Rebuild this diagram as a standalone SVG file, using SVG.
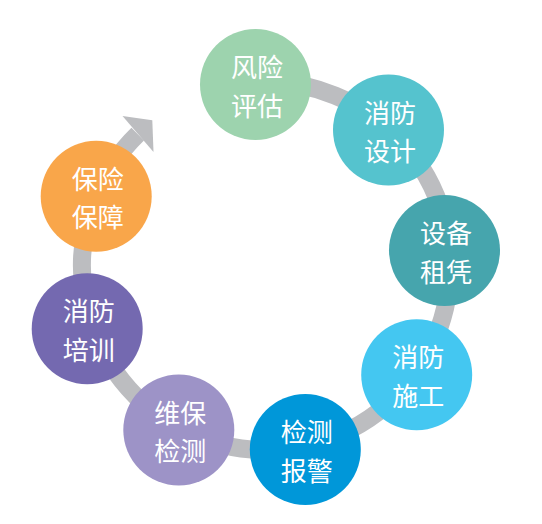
<svg xmlns="http://www.w3.org/2000/svg" width="542" height="524" viewBox="0 0 542 524">
<style>
.ring{fill:none;stroke:#bcbdc0;stroke-width:18}
.head{fill:#bcbdc0}
.lbl{font-family:"Noto Sans CJK SC","Noto Sans",sans-serif;font-size:26px;fill:#ffffff;text-anchor:middle}
</style>
<rect width="542" height="524" fill="#ffffff"/>
<g id="connectors">
<path class="ring" d="M256.4,82.3 A184,184 0 1 1 137.7,134.1"/>
<polygon class="head" points="152.3,120.3 122.5,116 153.5,152"/>
</g>
<g id="n1"><circle cx="255.5" cy="84.5" r="55.5" fill="#9dd3ae"/><text class="lbl" x="257" y="77">风险</text><text class="lbl" x="257" y="115.5">评估</text></g>
<g id="n2"><circle cx="388.5" cy="130" r="55.5" fill="#55c3ce"/><text class="lbl" x="390" y="122.5">消防</text><text class="lbl" x="390" y="161">设计</text></g>
<g id="n3"><circle cx="444.5" cy="250.5" r="55.5" fill="#46a5ad"/><text class="lbl" x="446" y="243">设备</text><text class="lbl" x="446" y="281.5">租凭</text></g>
<g id="n4"><circle cx="416.7" cy="374.7" r="55.5" fill="#44c7f1"/><text class="lbl" x="418.2" y="367.2">消防</text><text class="lbl" x="418.2" y="405.7">施工</text></g>
<g id="n5"><circle cx="305.3" cy="449.5" r="55.5" fill="#0097d9"/><text class="lbl" x="306.8" y="442">检测</text><text class="lbl" x="306.8" y="480.5">报警</text></g>
<g id="n6"><circle cx="178.8" cy="430" r="55.5" fill="#9d93c7"/><text class="lbl" x="180.3" y="422.5">维保</text><text class="lbl" x="180.3" y="461">检测</text></g>
<g id="n7"><circle cx="87.2" cy="328.8" r="55.5" fill="#7469b0"/><text class="lbl" x="88.7" y="321.3">消防</text><text class="lbl" x="88.7" y="359.8">培训</text></g>
<g id="n8"><circle cx="96.2" cy="196.3" r="55.5" fill="#f9a64a"/><text class="lbl" x="97.7" y="188.8">保险</text><text class="lbl" x="97.7" y="227.3">保障</text></g>
</svg>
